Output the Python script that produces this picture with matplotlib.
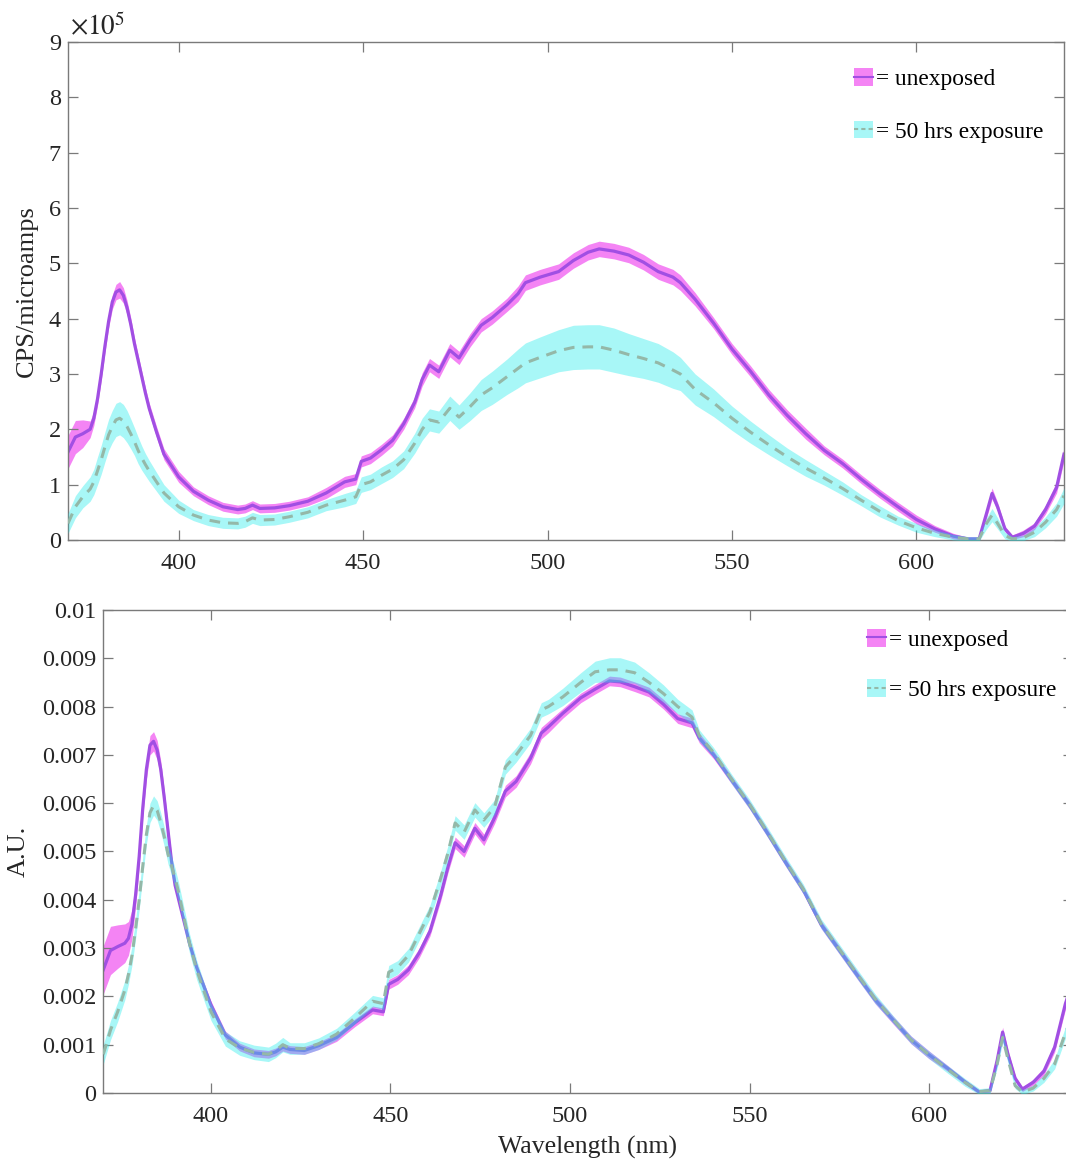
import matplotlib
matplotlib.use("Agg")
import matplotlib.pyplot as plt
import numpy as np
from matplotlib.legend_handler import HandlerTuple
from matplotlib.patches import Patch
from matplotlib.lines import Line2D

plt.rcParams["font.family"] = ["Liberation Serif", "DejaVu Serif"]
plt.rcParams["mathtext.fontset"] = "stix"

# Wavelength sample points (nm)
wavelength = [370, 372, 374, 376, 377, 378, 379, 380, 381, 382, 383, 384, 385, 386, 387,
              388, 389, 390, 391, 392, 394, 396, 400,
              404, 408, 412, 416, 418, 420, 422, 426, 430, 435, 440, 445, 448, 449.5,
              452, 455, 458, 461, 464, 466, 468, 470.5, 473.5, 476, 479, 482, 485, 489,
              492, 494, 498, 503, 507, 511, 514, 518, 522, 526, 530, 534, 536, 540,
              545, 550, 555, 560, 565, 570, 575, 580, 585, 590, 595, 600, 605, 610,
              614, 617, 619, 620.5, 622, 624, 626, 629, 632, 635, 638, 640]

# Raw emission, CPS/microamps (units of 1e5)
cps_unexposed = [1.59, 1.86, 1.92, 2.0, 2.2, 2.55, 3.0, 3.5, 3.95, 4.3, 4.48, 4.52, 4.42, 4.2, 3.9,
                 3.55, 3.25, 2.95, 2.65, 2.38, 1.95, 1.55, 1.14,
                 0.88, 0.72, 0.6, 0.55, 0.57, 0.63, 0.57, 0.58, 0.62, 0.7, 0.85, 1.05, 1.1, 1.42,
                 1.48, 1.63, 1.8, 2.1, 2.49, 2.9, 3.16, 3.04, 3.43, 3.29, 3.61, 3.88, 4.02, 4.25,
                 4.45, 4.65, 4.75, 4.85, 5.05, 5.2, 5.26, 5.22, 5.15, 5.02, 4.85, 4.75, 4.65, 4.35,
                 3.92, 3.45, 3.05, 2.62, 2.25, 1.92, 1.62, 1.38, 1.1, 0.84, 0.6, 0.37, 0.2, 0.07,
                 0.02, 0.02, 0.48, 0.84, 0.6, 0.2, 0.05, 0.12, 0.25, 0.55, 0.95, 1.55]
cps_unexposed_sd = [0.3, 0.3, 0.25, 0.15, 0.13, 0.12, 0.12, 0.12, 0.12, 0.13, 0.14, 0.15, 0.14, 0.13, 0.12,
                    0.11, 0.1, 0.1, 0.1, 0.1, 0.1, 0.1, 0.1,
                    0.08, 0.08, 0.08, 0.08, 0.08, 0.08, 0.08, 0.08, 0.08, 0.08, 0.1, 0.1, 0.1, 0.1,
                    0.1, 0.1, 0.1, 0.1, 0.1, 0.12, 0.12, 0.12, 0.12, 0.12, 0.12, 0.12, 0.12, 0.12,
                    0.14, 0.14, 0.14, 0.14, 0.14, 0.14, 0.14, 0.14, 0.14, 0.14, 0.14, 0.14, 0.14, 0.12,
                    0.1, 0.1, 0.1, 0.1, 0.1, 0.1, 0.08, 0.08, 0.08, 0.08, 0.08, 0.08, 0.06, 0.05,
                    0.03, 0.03, 0.08, 0.1, 0.08, 0.05, 0.04, 0.06, 0.06, 0.08, 0.1, 0.12]
cps_exposed = [0.3, 0.6, 0.78, 0.92, 1.05, 1.25, 1.45, 1.68, 1.9, 2.05, 2.17, 2.2, 2.15, 2.05, 1.92,
               1.78, 1.62, 1.48, 1.36, 1.25, 1.05, 0.85, 0.6,
               0.45, 0.36, 0.31, 0.3, 0.33, 0.4, 0.36, 0.37, 0.42, 0.5, 0.63, 0.72, 0.78, 1.0,
               1.05, 1.17, 1.28, 1.45, 1.75, 2.0, 2.17, 2.13, 2.38, 2.22, 2.41, 2.62, 2.75, 2.95,
               3.1, 3.2, 3.3, 3.42, 3.48, 3.49, 3.49, 3.43, 3.35, 3.28, 3.2, 3.07, 3.0, 2.72,
               2.48, 2.2, 1.95, 1.72, 1.5, 1.3, 1.12, 0.93, 0.72, 0.52, 0.35, 0.22, 0.12, 0.05,
               0.02, 0.02, 0.3, 0.45, 0.3, 0.08, 0.02, 0.04, 0.14, 0.32, 0.55, 0.8]
cps_exposed_sd = [0.18, 0.2, 0.2, 0.22, 0.23, 0.25, 0.26, 0.27, 0.28, 0.29, 0.3, 0.3, 0.3, 0.29, 0.27,
                  0.25, 0.24, 0.22, 0.2, 0.19, 0.17, 0.15, 0.12,
                  0.1, 0.1, 0.1, 0.1, 0.1, 0.1, 0.1, 0.1, 0.1, 0.1, 0.1, 0.12, 0.12, 0.14,
                  0.14, 0.15, 0.15, 0.16, 0.18, 0.2, 0.2, 0.2, 0.22, 0.22, 0.25, 0.28, 0.3, 0.32,
                  0.35, 0.36, 0.37, 0.38, 0.4, 0.4, 0.4, 0.4, 0.38, 0.36, 0.35, 0.33, 0.3, 0.28,
                  0.25, 0.22, 0.2, 0.18, 0.16, 0.15, 0.13, 0.12, 0.1, 0.1, 0.08, 0.08, 0.06, 0.05,
                  0.04, 0.04, 0.1, 0.12, 0.1, 0.06, 0.04, 0.05, 0.08, 0.1, 0.12, 0.14]

# Normalised emission, A.U. (units of 1e-3)
au_unexposed = [2.55, 2.95, 3.03, 3.1, 3.2, 3.5, 4.1, 4.9, 5.9, 6.7, 7.2, 7.28, 7.1, 6.7, 6.1,
                5.45, 4.8, 4.3, 4.0, 3.7, 3.1, 2.6, 1.82,
                1.2, 0.95, 0.83, 0.8, 0.85, 0.95, 0.9, 0.88, 0.98, 1.15, 1.45, 1.72, 1.68, 2.25,
                2.35, 2.55, 2.9, 3.35, 4.1, 4.68, 5.18, 5.0, 5.48, 5.24, 5.7, 6.25, 6.45, 6.93,
                7.45, 7.58, 7.86, 8.18, 8.36, 8.53, 8.51, 8.41, 8.3, 8.05, 7.75, 7.66, 7.35, 7.0,
                6.48, 5.96, 5.38, 4.78, 4.2, 3.48, 2.96, 2.44, 1.93, 1.51, 1.1, 0.79, 0.52, 0.23,
                0.02, 0.05, 0.68, 1.26, 0.8, 0.3, 0.08, 0.22, 0.45, 0.95, 1.85, 2.3]
au_unexposed_sd = [0.5, 0.5, 0.45, 0.4, 0.35, 0.3, 0.25, 0.2, 0.2, 0.2, 0.2, 0.2, 0.2, 0.18, 0.16,
                   0.14, 0.12, 0.1, 0.1, 0.09, 0.08, 0.08, 0.08,
                   0.08, 0.08, 0.08, 0.08, 0.08, 0.08, 0.08, 0.08, 0.08, 0.08, 0.08, 0.08, 0.08, 0.1,
                   0.1, 0.1, 0.1, 0.1, 0.12, 0.12, 0.12, 0.12, 0.12, 0.12, 0.12, 0.12, 0.12, 0.12,
                   0.12, 0.12, 0.1, 0.1, 0.1, 0.1, 0.1, 0.1, 0.1, 0.1, 0.1, 0.1, 0.1, 0.08,
                   0.08, 0.08, 0.08, 0.08, 0.08, 0.08, 0.08, 0.08, 0.08, 0.08, 0.08, 0.08, 0.06, 0.05,
                   0.04, 0.04, 0.08, 0.1, 0.08, 0.06, 0.05, 0.06, 0.08, 0.1, 0.12, 0.15]
au_exposed = [0.8, 1.3, 1.68, 2.13, 2.45, 2.85, 3.4, 4.0, 4.7, 5.35, 5.8, 5.95, 5.85, 5.6, 5.3,
              4.95, 4.7, 4.45, 4.15, 3.8, 3.1, 2.55, 1.68,
              1.12, 0.93, 0.84, 0.8, 0.88, 1.0, 0.92, 0.92, 1.02, 1.22, 1.55, 1.9, 1.85, 2.5,
              2.6, 2.85, 3.3, 3.75, 4.45, 4.97, 5.59, 5.4, 5.86, 5.65, 5.92, 6.75, 7.0, 7.4,
              7.93, 8.0, 8.2, 8.5, 8.72, 8.76, 8.76, 8.7, 8.5, 8.27, 8.0, 7.78, 7.4, 7.05,
              6.5, 5.98, 5.4, 4.8, 4.22, 3.5, 2.98, 2.46, 1.95, 1.52, 1.1, 0.79, 0.5, 0.22,
              0.03, 0.05, 0.6, 1.15, 0.7, 0.15, 0.02, 0.1, 0.3, 0.6, 1.25, 1.6]
au_exposed_sd = [0.2, 0.2, 0.2, 0.2, 0.2, 0.2, 0.2, 0.2, 0.2, 0.2, 0.2, 0.2, 0.2, 0.2, 0.2,
                 0.2, 0.2, 0.2, 0.2, 0.2, 0.2, 0.2, 0.18,
                 0.15, 0.15, 0.15, 0.15, 0.15, 0.15, 0.12, 0.12, 0.12, 0.12, 0.12, 0.12, 0.12, 0.14,
                 0.14, 0.14, 0.14, 0.14, 0.15, 0.15, 0.15, 0.15, 0.15, 0.15, 0.15, 0.15, 0.15, 0.15,
                 0.15, 0.15, 0.18, 0.2, 0.22, 0.25, 0.25, 0.22, 0.2, 0.18, 0.15, 0.15, 0.12, 0.1,
                 0.1, 0.1, 0.1, 0.1, 0.1, 0.1, 0.1, 0.1, 0.1, 0.08, 0.08, 0.08, 0.08, 0.08,
                 0.06, 0.06, 0.08, 0.1, 0.08, 0.06, 0.05, 0.06, 0.08, 0.1, 0.12, 0.12]

legend_labels = ["= unexposed", "= 50 hrs exposure"]

MAG_BAND = (0.93, 0.2, 0.93)
PURPLE = (0.63, 0.31, 0.89)
CYAN_BAND = (0.1, 0.92, 0.92)
DASH = (0.58, 0.72, 0.66)
SPINE = "#7a7a7a"
TXT = "#262626"

fig = plt.figure(figsize=(10.66, 11.62), dpi=100)
ax1 = fig.add_axes([0.0638, 0.5353, 0.9343, 0.4286])
ax2 = fig.add_axes([0.0969, 0.0594, 0.9093, 0.4157])

x = np.array(wavelength)


def draw(ax, a, a_sd, b, b_sd, scale):
    a = np.array(a) * scale
    a_sd = np.array(a_sd) * scale
    b = np.array(b) * scale
    b_sd = np.array(b_sd) * scale
    ax.fill_between(x, a - a_sd, a + a_sd, color=MAG_BAND, alpha=0.6, lw=0, zorder=1)
    ax.plot(x, a, color=PURPLE, lw=2.3, zorder=2, solid_joinstyle="round")
    ax.fill_between(x, b - b_sd, b + b_sd, color=CYAN_BAND, alpha=0.38, lw=0, zorder=3)
    ax.plot(x, b, color=DASH, lw=2.2, ls=(0, (3.5, 2.6)), zorder=4)


def style(ax):
    ax.set_xlim(370, 640)
    ax.set_xticks([400, 450, 500, 550, 600])
    for s in ax.spines.values():
        s.set_color(SPINE)
        s.set_linewidth(1.0)
    ax.tick_params(direction="in", length=7, width=0.9, color=SPINE, labelcolor=TXT,
                   labelsize=17.5, top=True, right=True)
    ax.tick_params(axis="x", pad=9.5)
    ax.tick_params(axis="y", pad=5)


def legend(ax, anchor, spacing):
    h1 = (Patch(facecolor=MAG_BAND, alpha=0.6, lw=0), Line2D([], [], color=PURPLE, lw=1.5))
    h2 = (Patch(facecolor=CYAN_BAND, alpha=0.38, lw=0),
          Line2D([], [], color=DASH, lw=1.5, ls=(0, (2, 1.5))))
    ax.legend([h1, h2], legend_labels, handler_map={tuple: HandlerTuple(ndivide=1, pad=0)},
              loc="upper right", bbox_to_anchor=anchor, frameon=False, fontsize=16.8,
              handlelength=0.8, handleheight=0.8, handletextpad=0.15, labelspacing=spacing,
              borderaxespad=0)


draw(ax1, cps_unexposed, cps_unexposed_sd, cps_exposed, cps_exposed_sd, 1.0)
style(ax1)
ax1.set_ylim(0, 9)
ax1.set_yticks(range(10))
ax1.set_ylabel("CPS/microamps", fontsize=19, color=TXT, labelpad=8)
ax1.text(0.002, 1.002, r"$\times 10^5$", transform=ax1.transAxes, fontsize=19.5, color=TXT,
         ha="left", va="bottom")
legend(ax1, (0.989, 0.966), 1.3)

draw(ax2, au_unexposed, au_unexposed_sd, au_exposed, au_exposed_sd, 1e-3)
style(ax2)
ax2.set_ylim(0, 0.01)
ax2.set_yticks(np.linspace(0, 0.01, 11))
ax2.yaxis.set_major_formatter(plt.FuncFormatter(lambda v, p: "%g" % round(v, 4)))
ax2.set_ylabel("A.U.", fontsize=19, color=TXT, labelpad=9)
ax2.set_xlabel("Wavelength (nm)", fontsize=18.5, color=TXT, labelpad=6.5)
legend(ax2, (0.993, 0.98), 1.22)

fig.savefig("out.png", dpi=100)
